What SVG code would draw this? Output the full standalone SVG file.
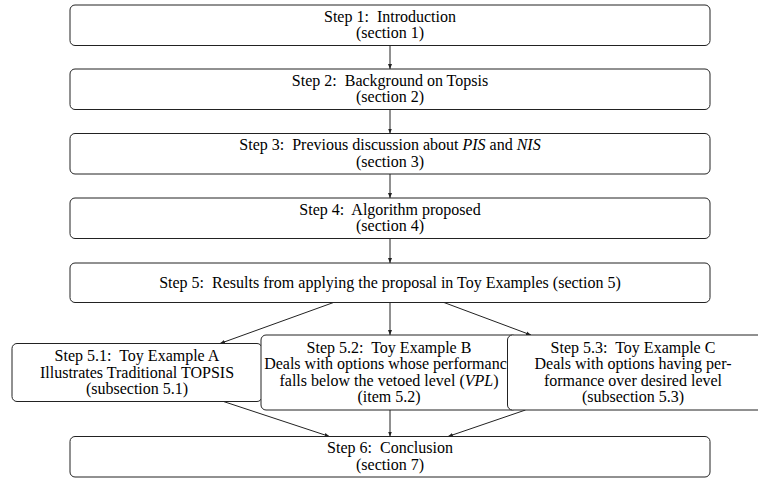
<svg xmlns="http://www.w3.org/2000/svg" width="758" height="480" viewBox="0 0 758 480">
<style>
.box{fill:#fff;stroke:#222;stroke-width:1}
text{font-family:"Liberation Serif","Times New Roman",serif;font-size:16px;fill:#000;text-anchor:middle;white-space:pre}
.m{font-style:italic}
.c{stroke:#222;stroke-width:1;fill:none;marker-end:url(#ah)}
</style>
<defs>
<marker id="ah" viewBox="0 0 10 10" refX="10" refY="5" markerWidth="5" markerHeight="5" orient="auto" markerUnits="userSpaceOnUse">
<path d="M0,1 L10,5 L0,9 z" fill="#222"/>
</marker>
</defs>
<rect width="758" height="480" fill="#fff"/>
<g id="connectors">
<line class="c" x1="390" y1="45.5" x2="390" y2="69"/>
<line class="c" x1="390" y1="109.5" x2="390" y2="133.5"/>
<line class="c" x1="390" y1="174" x2="390" y2="198"/>
<line class="c" x1="390" y1="238.5" x2="390" y2="263"/>
<line class="c" x1="333.5" y1="302.5" x2="220" y2="343.5"/>
<line class="c" x1="390" y1="302.5" x2="390" y2="335"/>
<line class="c" x1="444" y1="302.5" x2="531" y2="335"/>
<line class="c" x1="223.5" y1="401.5" x2="329.5" y2="436.5"/>
<line class="c" x1="390" y1="410" x2="390" y2="436.5"/>
<line class="c" x1="525.5" y1="410" x2="448" y2="436.5"/>
</g>
<g id="step1">
<rect class="box" x="70" y="5" width="640" height="40.5" rx="5"/>
<text x="390" y="21.5">Step 1:  Introduction</text>
<text x="390" y="38">(section 1)</text>
</g>
<g id="step2">
<rect class="box" x="70" y="69" width="640" height="40.5" rx="5"/>
<text x="390" y="85.5">Step 2:  Background on Topsis</text>
<text x="390" y="102">(section 2)</text>
</g>
<g id="step3">
<rect class="box" x="70" y="133.5" width="640" height="40.5" rx="5"/>
<text x="390" y="150">Step 3:  Previous discussion about <tspan class="m">PIS</tspan> and <tspan class="m">NIS</tspan></text>
<text x="390" y="166.5">(section 3)</text>
</g>
<g id="step4">
<rect class="box" x="70" y="198" width="640" height="40.5" rx="5"/>
<text x="390" y="214.5">Step 4:  Algorithm proposed</text>
<text x="390" y="231">(section 4)</text>
</g>
<g id="step5">
<rect class="box" x="70" y="263" width="640" height="39.5" rx="5"/>
<text x="390" y="288">Step 5:  Results from applying the proposal in Toy Examples (section 5)</text>
</g>
<g id="step5_1">
<rect class="box" x="12" y="343.5" width="250" height="58" rx="5"/>
<text x="137" y="361">Step 5.1:  Toy Example A</text>
<text x="137" y="377.5">Illustrates Traditional TOPSIS</text>
<text x="137" y="394">(subsection 5.1)</text>
</g>
<g id="step5_2">
<rect class="box" x="261" y="335" width="256" height="75" rx="5"/>
<text x="389" y="352.5">Step 5.2:  Toy Example B</text>
<text x="389" y="369">Deals with options whose performance</text>
<text x="389" y="385.5">falls below the vetoed level (<tspan class="m">VPL</tspan>)</text>
<text x="389" y="402">(item 5.2)</text>
</g>
<g id="step5_3">
<rect class="box" x="507.5" y="335" width="256" height="75" rx="5"/>
<text x="633" y="352.5">Step 5.3:  Toy Example C</text>
<text x="633" y="369">Deals with options having per-</text>
<text x="633" y="385.5">formance over desired level</text>
<text x="633" y="402">(subsection 5.3)</text>
</g>
<g id="step6">
<rect class="box" x="70" y="436.5" width="640" height="40.5" rx="5"/>
<text x="390" y="453">Step 6:  Conclusion</text>
<text x="390" y="469.5">(section 7)</text>
</g>
</svg>
